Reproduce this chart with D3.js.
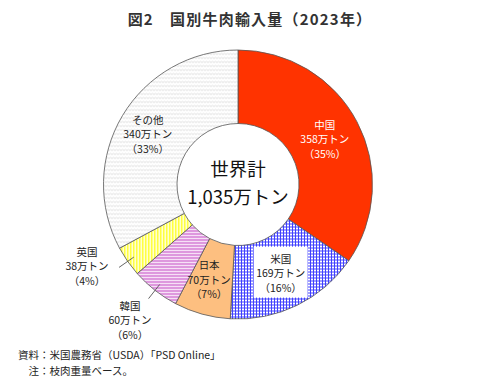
<!DOCTYPE html>
<html><head><meta charset="utf-8">
<script src="https://cdn.jsdelivr.net/npm/d3@7"></script>
<style>
html,body{margin:0;padding:0;background:#fff;}
svg{display:block;font-family:"Noto Sans CJK JP","Noto Sans",sans-serif;}
</style></head>
<body>
<svg id="c" width="500" height="388"></svg>
<script>
const countries = ["中国","米国","日本","韓国","英国","その他"];
const values = [358,169,70,60,38,340];
const shares = ["35%","16%","7%","6%","4%","33%"];
const totalLabel = ["世界計","1,035万トン"];
const title = "図2　国別牛肉輸入量（2023年）";
const notes = ["資料：米国農務省（USDA）「PSD Online」","　注：枝肉重量ベース。"];

const svg = d3.select("#c");
const defs = svg.append("defs");

// patterns
const pOther = defs.append("pattern").attr("id","pOther").attr("patternUnits","userSpaceOnUse").attr("width",6).attr("height",4);
pOther.append("rect").attr("width",6).attr("height",4).attr("fill","#fff");
pOther.append("path").attr("d","M0,2 L1.5,1 L3,2 L4.5,1 L6,2").attr("stroke","#d4d4d4").attr("stroke-width",0.8).attr("fill","none");

const pUK = defs.append("pattern").attr("id","pUK").attr("patternUnits","userSpaceOnUse").attr("width",3).attr("height",3);
pUK.append("rect").attr("width",3).attr("height",3).attr("fill","#ffffd0");
pUK.append("rect").attr("x",0).attr("width",1.5).attr("height",3).attr("fill","#ffff40");

const pKR = defs.append("pattern").attr("id","pKR").attr("patternUnits","userSpaceOnUse").attr("width",4).attr("height",3);
pKR.append("rect").attr("width",4).attr("height",3).attr("fill","#f6e0f6");
pKR.append("path").attr("d","M0,2 L1,1 L2,2 L3,1 L4,2").attr("stroke","#c040c0").attr("stroke-width",0.9).attr("fill","none");

const pUS = defs.append("pattern").attr("id","pUS").attr("patternUnits","userSpaceOnUse").attr("width",3).attr("height",3);
pUS.append("rect").attr("width",3).attr("height",3).attr("fill","#fff");
pUS.append("rect").attr("x",0).attr("width",1).attr("height",3).attr("fill","#4040ff");
pUS.append("rect").attr("y",0).attr("width",3).attr("height",1).attr("fill","#4040ff");

const fills = ["#ff3300","url(#pUS)","#fdbf80","url(#pKR)","url(#pUK)","url(#pOther)"];

const cx = 238, cy = 184.5, rOuter = 134.5, rInner = 61;
const g = svg.append("g").attr("transform",`translate(${cx},${cy})`);

const pie = d3.pie().sort(null).value(d=>d.v);
const data = countries.map((c,i)=>({c, v:values[i], s:shares[i], i}));
const arcs = pie(data);
const arc = d3.arc().innerRadius(rInner).outerRadius(rOuter);

g.selectAll("path.slice").data(arcs).join("path")
  .attr("class","slice")
  .attr("d",arc)
  .attr("fill",(d,i)=>fills[i])
  .attr("stroke","#555").attr("stroke-width",0.8);

// labels
const labelArc = d3.arc().innerRadius(97).outerRadius(97);
const inside = {0:{dx:1,dy:0,color:"#fff"},1:{dx:0,dy:2,color:"#222",box:true},2:{dx:-3,dy:2,color:"#222"},5:{dx:-7,dy:0,color:"#222"}};
const outside = {3:{dx:-108,dy:136},4:{dx:-151,dy:82}};
const lh = 14.5;

arcs.forEach((a,i)=>{
  const lines = [a.data.c, a.data.v+"万トン", "（"+a.data.s+"）"];
  let x,y,color="#222";
  if (inside[i]) {
    const [px,py] = labelArc.centroid(a);
    x = px + inside[i].dx; y = py + inside[i].dy; color = inside[i].color;
    if (inside[i].box) {
      g.append("rect").attr("x",x-27).attr("y",y-27).attr("width",54).attr("height",51).attr("fill","#fff");
    }
  } else {
    const mid = (a.startAngle + a.endAngle)/2;
    const r1 = 127, r2 = 145;
    g.append("line")
      .attr("x1",r1*Math.sin(mid)).attr("y1",-r1*Math.cos(mid))
      .attr("x2",r2*Math.sin(mid)).attr("y2",-r2*Math.cos(mid))
      .attr("stroke","#555").attr("stroke-width",0.9);
    x = outside[i].dx; y = outside[i].dy;
  }
  const t = g.append("text").attr("text-anchor","middle").attr("fill",color).attr("font-size",10.5);
  lines.forEach((l,k)=>{
    t.append("tspan").attr("x",x).attr("y",y + (k-1)*lh).attr("dy","0.35em").text(l);
  });
});

// center text
g.append("text").attr("text-anchor","middle").attr("y",-15).attr("dy","0.35em")
  .attr("font-size",18.5).attr("fill","#111").text(totalLabel[0]);
g.append("text").attr("text-anchor","middle").attr("y",13).attr("dy","0.35em")
  .attr("font-size",18.5).attr("fill","#111").text(totalLabel[1]);

// title
svg.append("text").attr("x",250).attr("y",20).attr("dy","0.35em").attr("text-anchor","middle")
  .attr("font-size",15).attr("font-weight","bold").attr("letter-spacing",1.2).attr("fill","#333").text(title);

// notes
notes.forEach((n,k)=>{
  svg.append("text").attr("x",18).attr("y",355 + k*16).attr("dy","0.35em")
    .attr("font-size",10.5).attr("fill","#222").text(n);
});
</script>
</body></html>
